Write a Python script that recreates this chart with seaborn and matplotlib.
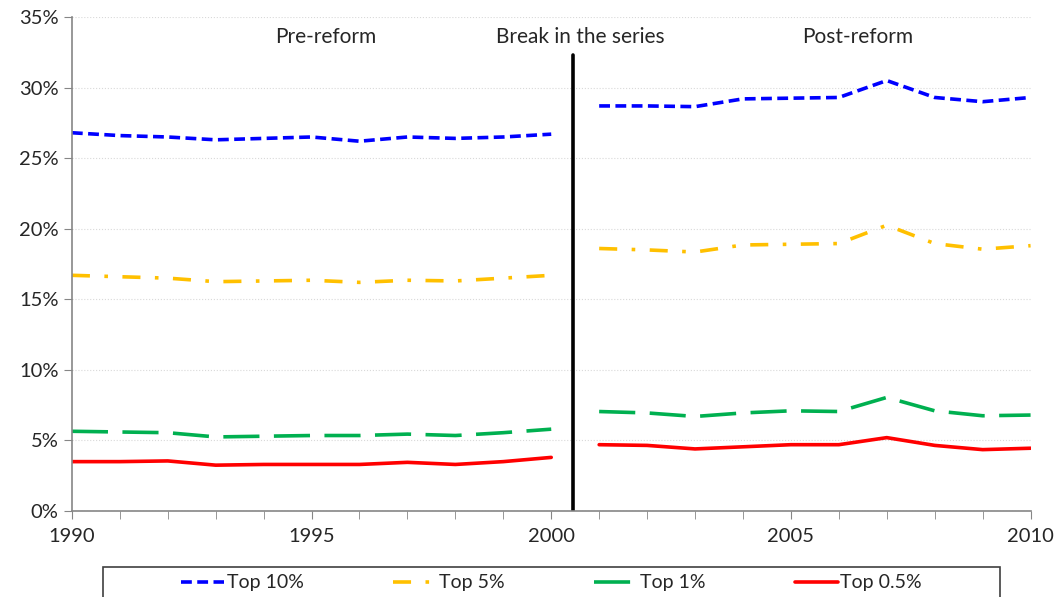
import numpy as np
import pandas as pd
import matplotlib
matplotlib.use("Agg")
import matplotlib.pyplot as plt
import seaborn as sns
from matplotlib.patches import Rectangle
from matplotlib.ticker import FuncFormatter, MultipleLocator

# Dados
years_pre = [1990, 1991, 1992, 1993, 1994, 1995, 1996, 1997, 1998, 1999, 2000]
years_post = [2001, 2002, 2003, 2004, 2005, 2006, 2007, 2008, 2009, 2010]

top10_pre = [26.8, 26.6, 26.5, 26.3, 26.4, 26.5, 26.2, 26.5, 26.4, 26.5, 26.7]
top10_post = [28.7, 28.7, 28.65, 29.2, 29.25, 29.3, 30.5, 29.3, 29.0, 29.3]

top5_pre = [16.7, 16.6, 16.5, 16.25, 16.3, 16.35, 16.2, 16.35, 16.3, 16.5, 16.7]
top5_post = [18.6, 18.5, 18.35, 18.85, 18.9, 18.95, 20.25, 18.95, 18.55, 18.8]

top1_pre = [5.65, 5.6, 5.55, 5.25, 5.3, 5.35, 5.35, 5.45, 5.35, 5.55, 5.8]
top1_post = [7.05, 6.95, 6.7, 6.95, 7.1, 7.05, 8.05, 7.1, 6.75, 6.8]

top05_pre = [3.5, 3.5, 3.55, 3.25, 3.3, 3.3, 3.3, 3.45, 3.3, 3.5, 3.8]
top05_post = [4.7, 4.65, 4.4, 4.55, 4.7, 4.7, 5.2, 4.65, 4.35, 4.45]

series_labels = ['Top 10%', 'Top 5%', 'Top 1%', 'Top 0.5%']
break_year = 2000.45

def build_frame():
    rows = []
    data = {
        'Top 10%': (top10_pre, top10_post),
        'Top 5%': (top5_pre, top5_post),
        'Top 1%': (top1_pre, top1_post),
        'Top 0.5%': (top05_pre, top05_post),
    }
    for name, (pre, post) in data.items():
        for y, v in zip(years_pre, pre):
            rows.append((name, 'pre', y, v))
        for y, v in zip(years_post, post):
            rows.append((name, 'post', y, v))
    return pd.DataFrame(rows, columns=['serie', 'periodo', 'ano', 'valor'])

df = build_frame()

sns.set_style('white')
plt.rcParams['font.family'] = ['Lato', 'DejaVu Sans']

styles = {
    'Top 10%': dict(color='#0000FF', dashes=(3, 1.5)),
    'Top 5%': dict(color='#FFC000', dashes=(5, 4, 1, 4)),
    'Top 1%': dict(color='#00B050', dashes=(10, 4)),
    'Top 0.5%': dict(color='#FF0000', dashes=None),
}

fig = plt.figure(figsize=(10.57, 5.97), dpi=100)
ax = fig.add_axes([0.068, 0.144, 0.907, 0.8275])

handles = []
for name in series_labels:
    st = styles[name]
    for periodo in ['pre', 'post']:
        sub = df[(df['serie'] == name) & (df['periodo'] == periodo)]
        sns.lineplot(data=sub, x='ano', y='valor', ax=ax, color=st['color'],
                     linewidth=2.6, legend=False)
        line = ax.lines[-1]
        if st['dashes'] is not None:
            line.set_dashes(st['dashes'])
    handles.append(ax.lines[-1])

# linha de quebra da serie
ax.plot([break_year, break_year], [0, 32.3], color='black', linewidth=2.6)

ax.text(1995.3, 33.6, 'Pre-reform', ha='center', va='center', fontsize=15)
ax.text(2000.6, 33.6, 'Break in the series', ha='center', va='center', fontsize=15)
ax.text(2006.4, 33.6, 'Post-reform', ha='center', va='center', fontsize=15)

ax.set_xlim(1990, 2010)
ax.set_ylim(0, 35)
ax.xaxis.set_major_locator(MultipleLocator(5))
ax.xaxis.set_minor_locator(MultipleLocator(1))
ax.yaxis.set_major_locator(MultipleLocator(5))
ax.yaxis.set_major_formatter(FuncFormatter(lambda v, p: f'{v:.0f}%'))
ax.set_xlabel('')
ax.set_ylabel('')

ax.grid(axis='y', color='#D9D9D9', linestyle=':', linewidth=0.8)
ax.set_axisbelow(True)
for s in ['top', 'right']:
    ax.spines[s].set_visible(False)
for s in ['left', 'bottom']:
    ax.spines[s].set_color('#868686')
    ax.spines[s].set_linewidth(1.2)

ax.tick_params(axis='both', which='major', labelsize=14.5, length=6, color='#868686',
               direction='out', left=True, bottom=True)
ax.tick_params(axis='x', which='minor', length=6, color='#868686', bottom=True)
ax.tick_params(axis='x', pad=6)

# caixa da legenda (cortada na base, como no original)
fig.patches.append(Rectangle((0.0974, -0.05), 0.8486, 0.1003, transform=fig.transFigure,
                             fill=False, edgecolor='#404040', linewidth=1.2))

leg = fig.legend(handles, series_labels, loc='center', ncol=4,
                 bbox_to_anchor=(0.522, 0.0235), frameon=False, fontsize=14,
                 handlelength=2.2, handletextpad=0.15, columnspacing=4.6)

plt.savefig('out.png', dpi=100)
plt.close()
